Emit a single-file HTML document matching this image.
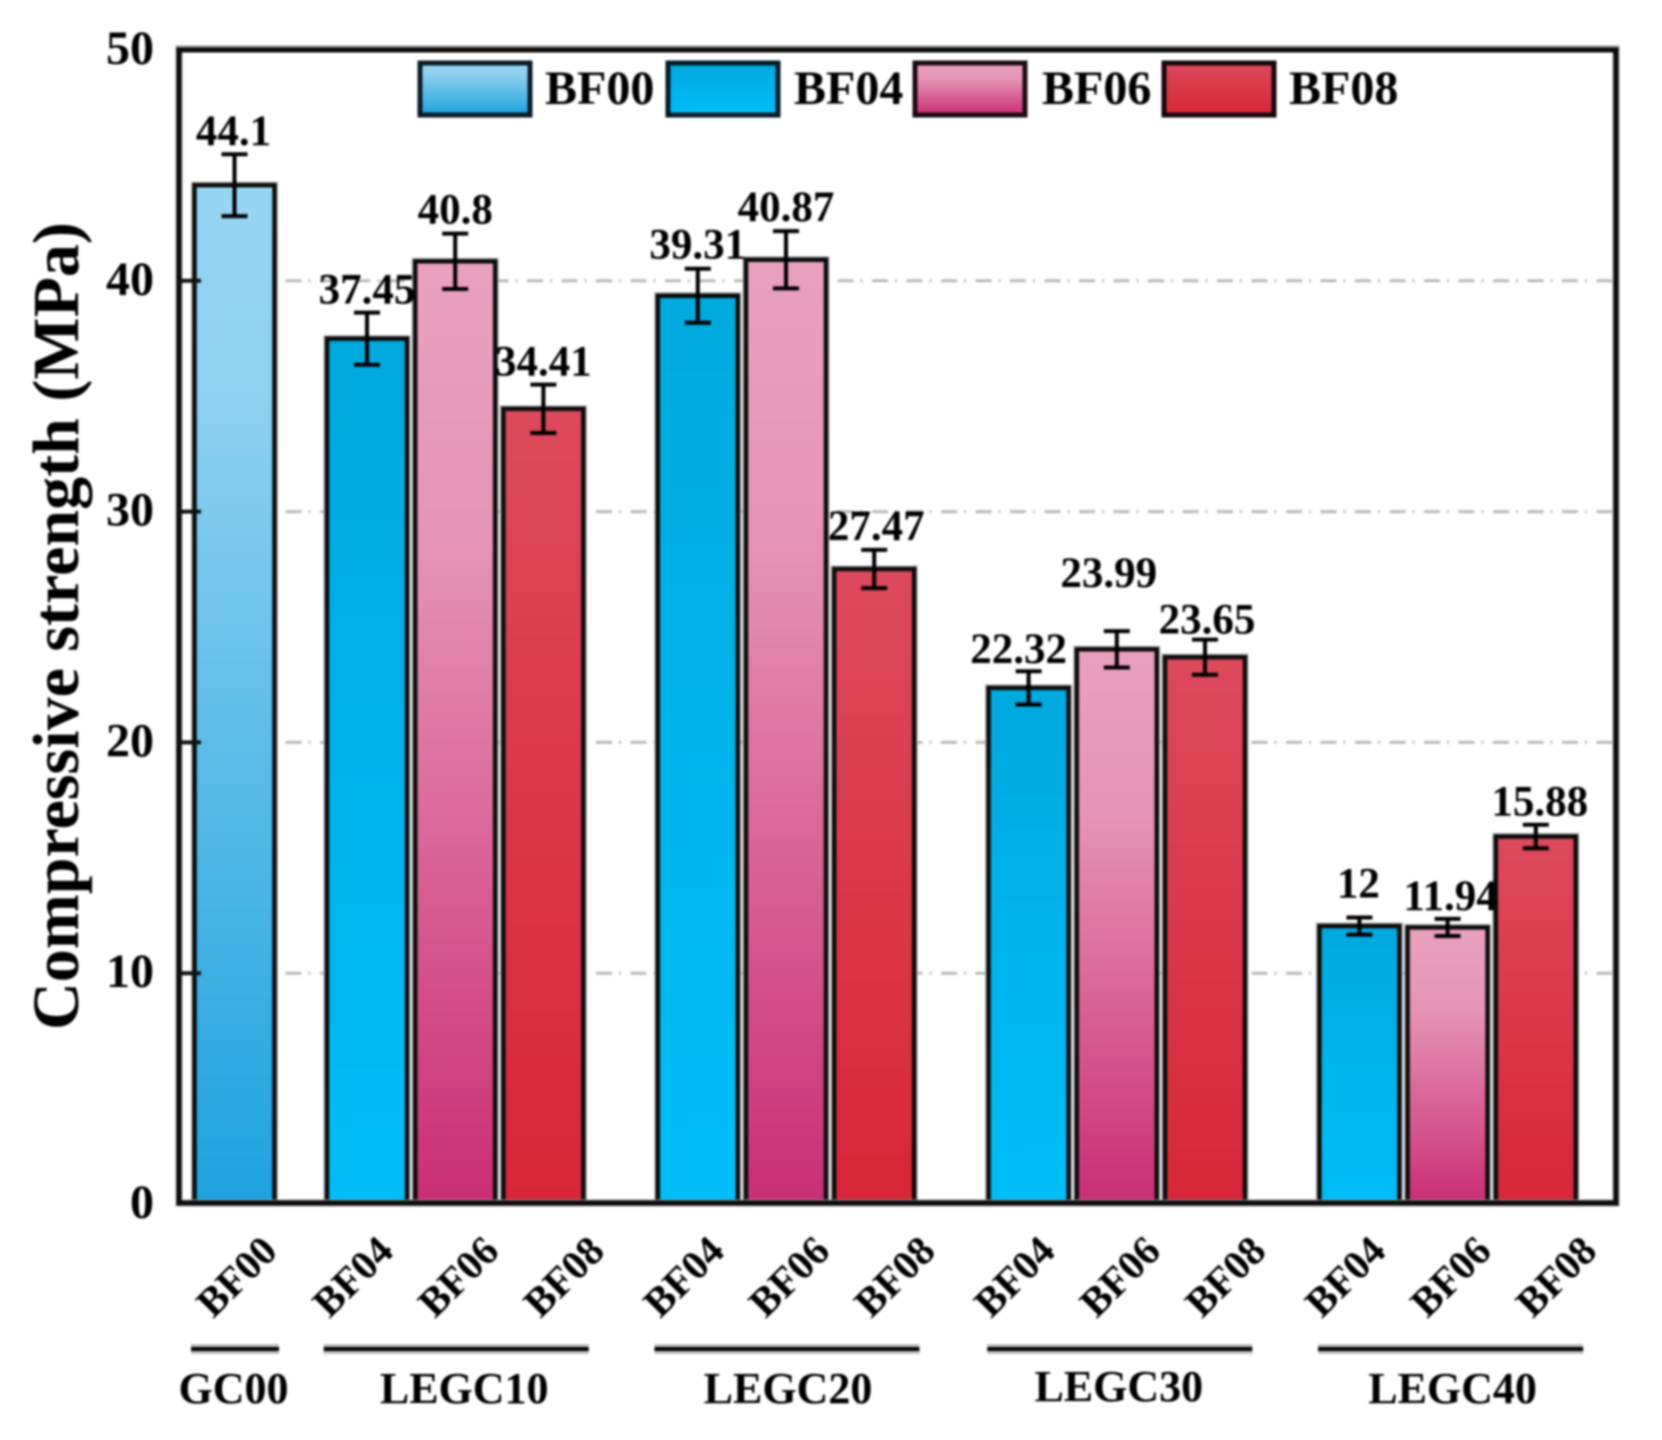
<!DOCTYPE html>
<html lang="en">
<head>
<meta charset="utf-8">
<title>Compressive strength chart</title>
<style>
html,body{margin:0;padding:0;background:#fff;}
#chart{display:block;width:1662px;height:1440px;filter:blur(1.1px);font-family:"Liberation Serif",serif;font-weight:bold;fill:#000;}
</style>
</head>
<body>
<svg id="chart" xmlns="http://www.w3.org/2000/svg" width="1662" height="1440" viewBox="0 0 1662 1440">
  <defs>
    <linearGradient id="g-BF00" x1="0" y1="0" x2="0" y2="1"><stop offset="0" stop-color="#98d6f2"/><stop offset="0.2" stop-color="#8fd1f0"/><stop offset="1" stop-color="#1ea3df"/></linearGradient>
    <linearGradient id="g-BF04" x1="0" y1="0" x2="0" y2="1"><stop offset="0" stop-color="#00a9de"/><stop offset="1" stop-color="#00bef9"/></linearGradient>
    <linearGradient id="g-BF06" x1="0" y1="0" x2="0" y2="1"><stop offset="0" stop-color="#e9a1be"/><stop offset="0.3" stop-color="#e694b5"/><stop offset="1" stop-color="#ca2e75"/></linearGradient>
    <linearGradient id="g-BF08" x1="0" y1="0" x2="0" y2="1"><stop offset="0" stop-color="#dc4a5c"/><stop offset="1" stop-color="#d72638"/></linearGradient>
  </defs>
  <rect width="1662" height="1440" fill="#fff"/>
  <g id="grid"></g>
  <g id="bars"></g>
  <g id="errs"></g>
  <rect x="179" y="49" width="1437" height="1154" fill="none" stroke="#999" stroke-width="7"/>
  <rect x="179" y="50" width="1437" height="1153" fill="none" stroke="#0c0c0c" stroke-width="5"/>
  <g id="ticks"></g>
  <g id="labels" font-size="43" text-anchor="middle"></g>
  <g id="ytl" font-size="48" text-anchor="end"></g>
  <g id="xtl" font-size="41" text-anchor="middle"></g>
  <g id="grp" font-size="44" text-anchor="middle"></g>
  <text transform="translate(78,626) rotate(-90)" font-size="66" text-anchor="middle">Compressive strength (MPa)</text>
  <g font-size="48">
    <rect x="420" y="63" width="110" height="52" fill="url(#g-BF00)" stroke="#0a1c28" stroke-width="5"/>
    <text x="545" y="104">BF00</text>
    <rect x="668" y="63" width="110" height="52" fill="url(#g-BF04)" stroke="#021c2a" stroke-width="5"/>
    <text x="794" y="104">BF04</text>
    <rect x="915" y="63" width="110" height="52" fill="url(#g-BF06)" stroke="#1c0a14" stroke-width="5"/>
    <text x="1042" y="104">BF06</text>
    <rect x="1164" y="63" width="110" height="52" fill="url(#g-BF08)" stroke="#16060a" stroke-width="5"/>
    <text x="1289" y="104">BF08</text>
  </g>
</svg>
<script>
// ---- chart data ----
const groupNames = ["GC00", "LEGC10", "LEGC20", "LEGC30", "LEGC40"];
const seriesNames = ["BF04", "BF06", "BF08"];
const bf00Values = [44.1];
const bf00Errors = [1.34];
const bf04Values = [37.45, 39.31, 22.32, 12];
const bf04Errors = [1.13, 1.17, 0.72, 0.37];
const bf06Values = [40.8, 40.87, 23.99, 11.94];
const bf06Errors = [1.2, 1.24, 0.79, 0.37];
const bf08Values = [34.41, 27.47, 23.65, 15.88];
const bf08Errors = [1.05, 0.83, 0.76, 0.51];
const yTicks = [0, 10, 20, 30, 40, 50];

// ---- axis functions ----
const NS = "http://www.w3.org/2000/svg";
function yScale(v) { return 1203 - v * 23.08; }
function xBar(groupIdx, memberIdx) {
  if (groupIdx === 0) return 234.5;
  return 367 + (groupIdx - 1) * 330.8 + memberIdx * 88.2;
}
function groupCenter(groupIdx) {
  return groupIdx === 0 ? 234.5 : xBar(groupIdx, 1);
}
function make(tag, attrs, parent) {
  const el = document.createElementNS(NS, tag);
  for (const k in attrs) el.setAttribute(k, attrs[k]);
  document.getElementById(parent).appendChild(el);
  return el;
}

// ---- layout tweaks for hand-placed annotations (pixels, not data) ----
const labelNudges = {
  "0-0": [-1, 1],
  "1-0": [0, 1], "1-1": [0, 0], "1-2": [0, 1],
  "2-0": [0, 0], "2-1": [0, 0], "2-2": [2, 0],
  "3-0": [-10, 2], "3-1": [-8, -34], "3-2": [2, 4],
  "4-0": [-1, -10], "4-1": [3, 1], "4-2": [4, 1]
};
const groupLabelNudges = [-1, 9, 2, 2, 5];
const groupLineShifts = [0.5, 1, 1, 3, 3];

// ---- gridlines and ticks ----
yTicks.forEach(function (t) {
  const y = yScale(t);
  if (t > 0 && t < 50) {
    const g = make("line", { x1: 182, x2: 1612, y1: y + 1, y2: y + 1, stroke: "#b9b9b9", "stroke-width": 3, "stroke-dasharray": "16 7 2 9.5" }, "grid");
    
    
    const m = make("line", { x1: 179, x2: 201, y1: y + 1, y2: y + 1, stroke: "#111", "stroke-width": 4 }, "ticks");
    
    
  }
  const lab = make("text", { x: 154, y: y + 15 }, "ytl");
  
  
  lab.textContent = String(t);
});

// ---- one bar with error bar, value label ----
function drawBar(groupIdx, memberIdx, series, value, err) {
  const cx = xBar(groupIdx, memberIdx);
  const top = yScale(value);
  const h = yScale(0) - top;
  const key = groupIdx + "-" + memberIdx;
  const base = groupNames[groupIdx].toLowerCase() + "-" + series.toLowerCase();

  const halo = make("rect", { x: cx - 40, y: top, width: 80, height: h, fill: "none", stroke: "#b4b4b4", "stroke-width": 7 }, "bars");
  
  

  const bar = make("rect", { x: cx - 40, y: top, width: 80, height: h, fill: "url(#g-" + series + ")", stroke: "#0c0c0c", "stroke-width": 4.5 }, "bars");
  
  

  const yHi = yScale(value + err), yLo = yScale(value - err);
  const stem = make("path", {
    d: "M" + (cx - 13) + " " + yHi + "H" + (cx + 13) + "M" + cx + " " + yHi + "V" + yLo + "M" + (cx - 13) + " " + yLo + "H" + (cx + 13),
    fill: "none", stroke: "#000", "stroke-width": 4
  }, "errs");
  
  

  const n = labelNudges[key] || [0, 0];
  const t = make("text", { x: cx + n[0], y: yHi - 10 + n[1] }, "labels");
  
  
  t.textContent = String(value);
}

drawBar(0, 0, "BF00", bf00Values[0], bf00Errors[0]);
bf04Values.forEach(function (v, i) { drawBar(i + 1, 0, "BF04", v, bf04Errors[i]); });
bf06Values.forEach(function (v, i) { drawBar(i + 1, 1, "BF06", v, bf06Errors[i]); });
bf08Values.forEach(function (v, i) { drawBar(i + 1, 2, "BF08", v, bf08Errors[i]); });

// ---- x labels ----
function xLabel(cx, text, name) {
  const cy = 1277;
  const t = make("text", { x: cx, y: cy + 13, transform: "rotate(-45 " + cx + " " + cy + ")" }, "xtl");
  
  
  t.textContent = text;
}
xLabel(237, "BF00", "x-label-gc00-bf00");
groupNames.forEach(function (name, g) {
  const c = groupCenter(g);
  if (g > 0) {
    seriesNames.forEach(function (s, m) {
      xLabel(c + 3.5 + (m - 1) * 105.5, s, "x-label-" + name.toLowerCase() + "-" + s.toLowerCase());
    });
  }
  const half = g === 0 ? 44 : 132.5;
  const shift = groupLineShifts[g];
  const halo = make("line", { x1: c + shift - half, x2: c + shift + half, y1: 1349, y2: 1349, stroke: "#bdbdbd", "stroke-width": 10 }, "grp");
  
  
  const line = make("line", { x1: c + shift - half, x2: c + shift + half, y1: 1349, y2: 1349, stroke: "#000", "stroke-width": 4 }, "grp");
  
  
  const lab = make("text", { x: c + groupLabelNudges[g], y: g === 3 ? 1401 : 1403 }, "grp");
  
  
  lab.textContent = name;
});
</script>
</body>
</html>
